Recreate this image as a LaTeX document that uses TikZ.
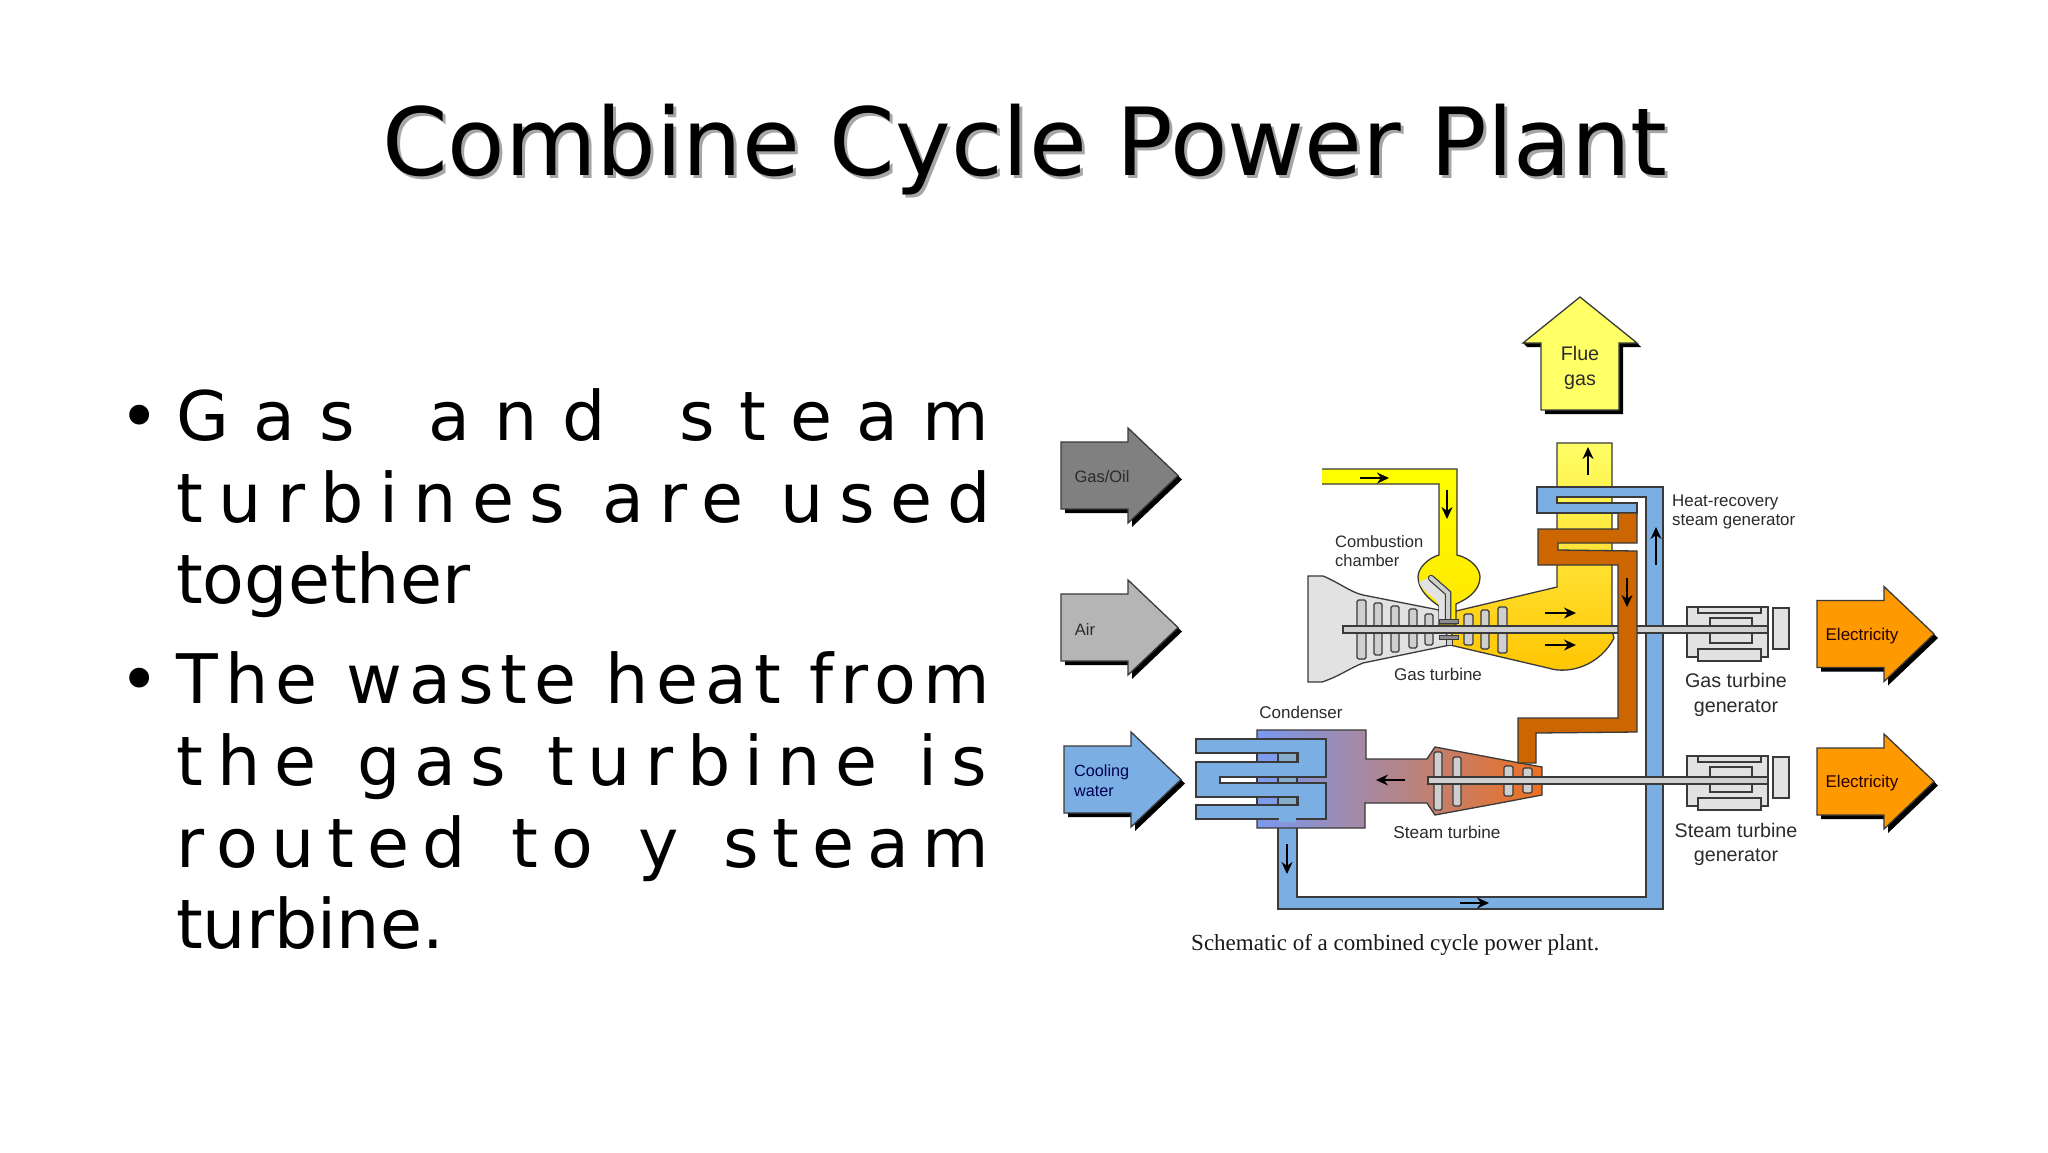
\documentclass[tikz,border=0pt]{standalone}
\usepackage{fontspec}
\setmainfont{DejaVu Sans}
\newfontfamily\lab{Liberation Sans}
\newfontfamily\capf{Liberation Serif}
\usetikzlibrary{arrows.meta}
\definecolor{edgec}{HTML}{3A3A3A}
\definecolor{txtc}{HTML}{2B2B2B}
\definecolor{pipeblue}{HTML}{7BAEE3}
\definecolor{pipeorange}{HTML}{CC6600}
\definecolor{bladec}{HTML}{CFCFCF}
\definecolor{lightgrey}{HTML}{E2E2E2}
\definecolor{elecorange}{HTML}{FF9900}
\definecolor{flueyellow}{HTML}{FFFF66}
\definecolor{hotyellow}{HTML}{FFC400}
\definecolor{casea}{HTML}{7A98F0}
\definecolor{caseb}{HTML}{C58AC0}
\definecolor{casec}{HTML}{EE7020}
\definecolor{slotc}{HTML}{7F9CEA}
\definecolor{tubec}{HTML}{86AECB}
\tikzset{
  part/.style={draw=edgec,line width=1.3pt,line join=miter},
  flow/.style={draw=black,line width=1.5pt,-{Stealth[length=12pt,width=11pt]}},
  lbl/.style={font=\lab\fontsize{17}{19}\selectfont,text=txtc,align=center,inner sep=0pt},
  lbll/.style={lbl,align=left},
  lblb/.style={lbl,font=\lab\fontsize{19.7}{24.5}\selectfont},
  bodyline/.style={anchor=base west,inner sep=0pt,font=\fontsize{68.3}{82}\selectfont,text=black},
  blade/.style={part,fill=bladec,rounded corners=1.5pt},
  shaft/.style={part,fill=bladec,line width=1.1pt},
  genpart/.style={part,fill=lightgrey,line width=1.2pt},
}
\newlength\fitw
\newcommand{\fitline}[3]{%
  \settowidth\fitw{#3}%
  \pgfmathsetmacro\lsval{((#1)-\fitw)/((#2)-1)/68.3*100/0.85}%
  \edef\lstmp{\noexpand\addfontfeature{LetterSpace=\lsval}}\lstmp #3}
% right pointing block arrow: left x, mid y, colour
\newcommand{\rarrow}[3]{%
  \fill[black] (#1+4,#2-33.5+4) -- (#1+71,#2-33.5+4) -- (#1+71,#2-47.5+4) -- (#1+121,#2+4) -- (#1+71,#2+47.5+4) -- (#1+71,#2+33.5+4) -- (#1+4,#2+33.5+4) -- cycle;
  \draw[part,fill=#3] (#1,#2-33.5) -- (#1+67,#2-33.5) -- (#1+67,#2-47.5) -- (#1+117,#2) -- (#1+67,#2+47.5) -- (#1+67,#2+33.5) -- (#1,#2+33.5) -- cycle;}
\newcommand{\generatorat}[1]{%
  \begin{scope}[shift={(0,#1)}]
  \draw[genpart] (1687,607) rectangle (1768,657);
  \draw[genpart] (1698,607) rectangle (1761,613);
  \draw[genpart] (1698,649) rectangle (1761,661);
  \draw[genpart] (1710,618) rectangle (1752,643);
  \draw[genpart] (1773,608) rectangle (1789,649);
  \end{scope}}
\begin{document}
\begin{tikzpicture}[x=1pt,y=-1pt]
\useasboundingbox (0,0) rectangle (2048,1152);
\fill[white] (0,0) rectangle (2048,1152);
% title
\node[inner sep=0pt,font=\fontsize{94}{110}\selectfont,text=black!35] (titleshadow) at (1028,153) {Combine Cycle Power Plant};
\node[inner sep=0pt,font=\fontsize{94}{110}\selectfont,text=black] (title) at (1025,150) {Combine Cycle Power Plant};
% body text
\node[bodyline] (b1) at (119,440) {•};
\node[bodyline] (l1) at (176,440) {\fitline{818pt}{13}{Gas\hspace{28pt} and\hspace{28pt} steam}};
\node[bodyline] (l2) at (176,522) {\fitline{809pt}{17}{turbines are used}};
\node[bodyline] (l3) at (176,603) {together};
\node[bodyline] (b2) at (119,703) {•};
\node[bodyline] (l4) at (176,703) {\fitline{816pt}{19}{The waste heat from}};
\node[bodyline] (l5) at (176,785) {\fitline{817pt}{18}{the\hspace{5pt} gas\hspace{5pt} turbine\hspace{5pt} is}};
\node[bodyline] (l6) at (176,867) {\fitline{821pt}{17}{routed\hspace{10pt} to\hspace{10pt} y\hspace{10pt} steam}};
\node[bodyline] (l7) at (176,948) {turbine.};
% feed arrows
\rarrow{1061}{475.5}{black!50}
\rarrow{1061}{627.5}{black!29}
\rarrow{1064}{779.5}{pipeblue}
\rarrow{1817}{634}{elecorange}
\rarrow{1817}{781.5}{elecorange}
% flue gas arrow
\fill[black] (1527,347) -- (1545,347) -- (1545,414) -- (1623,414) -- (1623,347) -- (1641,347) -- (1637,343) -- (1523,343) -- cycle;
\draw[part,fill=flueyellow] (1580,297) -- (1637,343) -- (1619,343) -- (1619,410) -- (1541,410) -- (1541,343) -- (1523,343) -- cycle;
% compressor
\draw[part,fill=lightgrey] (1308,576) -- (1323,576) .. controls (1340,583) and (1350,592) .. (1363,595) -- (1439,610) -- (1450,645) -- (1363,663) .. controls (1350,668) and (1340,676) .. (1322,682) -- (1308,682) -- cycle;
% hot gas path and stack
\draw[part,top color=flueyellow,bottom color=hotyellow] (1557,443) -- (1612,443) -- (1612,630) -- (1614,638) .. controls (1600,665) and (1570,675) .. (1548,668) -- (1450,645) -- (1456,611) -- (1557,587) -- cycle;
% fuel pipe and combustion chamber
\draw[part,top color=yellow,bottom color=yellow!80!orange] (1322,469) -- (1457,469) -- (1457,555) .. controls (1470,558) and (1480,568) .. (1480,577) .. controls (1480,592) and (1465,600) .. (1456,604) -- (1456,625) -- (1439,625) -- (1439,606) .. controls (1430,600) and (1418,590) .. (1418,577) .. controls (1418,568) and (1428,558) .. (1439,555) -- (1439,484) -- (1322,484);
\fill[lightgrey] (1419,582) .. controls (1422,592) and (1438,598) .. (1439,606) -- (1439,620) -- (1446,620) -- (1446,596) -- (1428,578) -- cycle;
\draw[draw=edgec,line width=6.5pt,line cap=round] (1431,578) -- (1448,593) -- (1448,620);
\draw[draw=bladec,line width=4pt,line cap=round] (1431,578) -- (1448,593) -- (1448,620);
% heat recovery / cooling loop
\draw[part,fill=pipeblue] (1537,487) -- (1663,487) -- (1663,909) -- (1278,909) -- (1278,820) -- (1297,820) -- (1297,897) -- (1646,897) -- (1646,497) -- (1557,497) -- (1557,503) -- (1637,503) -- (1637,513) -- (1537,513) -- cycle;
% condenser casing and steam turbine
\draw[part,left color=casea,middle color=caseb,right color=casec] (1257,730) -- (1366,730) -- (1366,759) -- (1427,759) -- (1435,747) -- (1520,763) -- (1542,767) -- (1542,795) -- (1500,803) -- (1435,815) -- (1427,803) -- (1365,803) -- (1365,828) -- (1257,828) -- cycle;
\fill[white] (1196,753) rectangle (1257,762);
\fill[white] (1220,777) rectangle (1257,783);
\fill[white] (1196,797) rectangle (1257,805);
% condenser tubes
\fill[slotc] (1257,753) rectangle (1278,762);
\fill[slotc] (1257,777) rectangle (1278,783);
\fill[slotc] (1257,797) rectangle (1278,805);
\draw[part,fill=pipeblue] (1196,739) -- (1326,739) -- (1326,777) -- (1220,777) -- (1220,783) -- (1326,783) -- (1326,819) -- (1196,819) -- (1196,805) -- (1298,805) -- (1298,797) -- (1196,797) -- (1196,762) -- (1298,762) -- (1298,753) -- (1196,753) -- cycle;
\draw[part,fill=tubec] (1278,753) rectangle (1297,762);
\draw[part,fill=tubec] (1278,777) rectangle (1297,783);
\draw[part,fill=tubec] (1278,797) rectangle (1297,805);
\draw[part] (1257,753) -- (1257,762) (1257,777) -- (1257,783) (1257,797) -- (1257,805);
\fill[pipeblue] (1279,818) rectangle (1296,822);
% generators
\generatorat{0}
\generatorat{149}
% gas turbine shaft, right part
\draw[shaft] (1343,626) rectangle (1768,633);
% orange steam pipe
\draw[part,fill=pipeorange] (1618,513) -- (1637,513) -- (1637,543) -- (1558,543) -- (1558,550) -- (1637,551) -- (1637,732) -- (1536,733) -- (1536,763) -- (1518,763) -- (1518,718) -- (1618,718) -- (1618,565) -- (1538,565) -- (1538,529) -- (1618,529) -- cycle;
% blades
\foreach \xa/\xb/\ya/\yb in {1357/1366/600/659,1374/1382/603/655,1391/1399/606/652,1409/1417/609/648,1425/1433/614/645,1464/1473/614/645,1481/1489/610/649,1498/1507/607/653,1434/1442/752/810,1453/1461/757/806,1504/1513/766/796,1523/1532/768/793}
  \draw[blade] (\xa,\ya) rectangle (\xb,\yb);
\fill[bladec] (1344,626.6) rectangle (1617.3,632.4);
\draw[edgec,line width=1.1pt] (1617.3,626) -- (1343,626) -- (1343,633) -- (1617.3,633);
\draw[shaft] (1428,777) rectangle (1768,784);
% burner bars
\draw[part,fill=black!45,line width=1pt] (1439,619) rectangle (1458,623);
\draw[part,fill=black!45,line width=1pt] (1439,635) rectangle (1458,639);
\draw[part,fill=bladec,line width=1pt] (1446,639) rectangle (1452,645);
% flow arrows
\coordinate (f1a) at (1360,478); \coordinate (f1b) at (1389,478);
\coordinate (f2a) at (1447,490); \coordinate (f2b) at (1447,519);
\coordinate (f3a) at (1588,475); \coordinate (f3b) at (1588,447);
\coordinate (f4a) at (1656,565); \coordinate (f4b) at (1656,527);
\coordinate (f5a) at (1627,578); \coordinate (f5b) at (1627,607);
\coordinate (f6a) at (1545,613); \coordinate (f6b) at (1576,613);
\coordinate (f7a) at (1545,645); \coordinate (f7b) at (1576,645);
\coordinate (f8a) at (1405,780); \coordinate (f8b) at (1376,780);
\coordinate (f9a) at (1287,844); \coordinate (f9b) at (1287,874);
\coordinate (f10a) at (1460,903); \coordinate (f10b) at (1489,903);
\foreach \k in {1,...,10} \draw[flow] (f\k a) -- (f\k b);
% labels
\node[lbl,font=\lab\fontsize{16.5}{19}\selectfont] (gasoil) at (1102,477) {Gas/Oil};
\node[lbl,font=\lab\fontsize{16.5}{19}\selectfont] (air) at (1085,630) {Air};
\node[lbll,anchor=west,font=\lab\fontsize{16.2}{20}\selectfont,text=black!60!blue!80!black] (cool) at (1074,781) {Cooling\\water};
\node[lblb] (flue) at (1580,368) {Flue\\gas};
\node[lbll,anchor=west,font=\lab\fontsize{16.5}{19}\selectfont] (comb) at (1335,551) {Combustion\\chamber};
\node[lbl] (gt) at (1438,674) {Gas turbine};
\node[lbll,anchor=west,font=\lab\fontsize{16.9}{19}\selectfont] (hrsg) at (1672,512) {Heat-recovery\\steam generator};
\node[lbl,text=black!85!red] (el1) at (1862,636) {Electricity};
\node[lbl,text=black!85!red] (el2) at (1862,783) {Electricity};
\node[lblb] (gtg) at (1736,695) {Gas turbine\\generator};
\node[lblb] (stg) at (1736,844.5) {Steam turbine\\generator};
\node[lbl] (cond) at (1301,712) {Condenser};
\node[lbl,font=\lab\fontsize{17.2}{20}\selectfont] (st) at (1447,832) {Steam turbine};
\node[inner sep=0pt,anchor=base west,font=\capf\fontsize{23}{24}\selectfont,text=black!90] (caption) at (1191,950) {Schematic of a combined cycle power plant.};
\end{tikzpicture}
\end{document}
